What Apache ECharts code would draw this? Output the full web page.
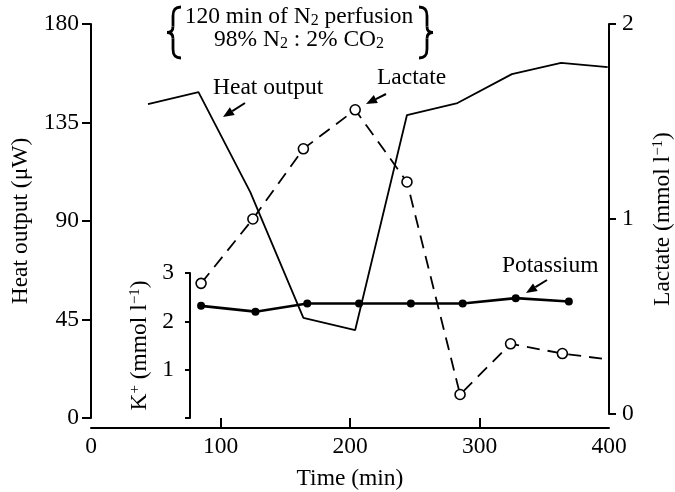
<!DOCTYPE html>
<html>
<head>
<meta charset="utf-8">
<script src="https://cdn.jsdelivr.net/npm/echarts@6/dist/echarts.min.js"></script>
<style>
  html, body { margin: 0; padding: 0; background: #fff; }
  #chart { width: 675px; height: 492px; }
</style>
</head>
<body>
<div id="chart"></div>
<script>
// heat output (µW), left axis
const timeHeat = [44, 83, 123, 164, 204, 244, 283, 325, 363, 399];
const heatOutput = [143.4, 148.9, 103.2, 45.7, 40.2, 138.4, 143.9, 157.1, 162.2, 160.3];

// lactate (mmol/l), right axis
const timeLactate = [85, 125, 164, 204, 244, 285, 324, 364, 399];
const lactate = [0.67, 1.0, 1.36, 1.56, 1.19, 0.1, 0.36, 0.31, 0.28];

// potassium (mmol/l), inset axis
const timeK = [85, 127, 167, 207, 247, 287, 328, 369];
const potassium = [2.32, 2.2, 2.37, 2.37, 2.37, 2.37, 2.48, 2.41];

const xTicks = [100, 200, 300];

const FONT = "Liberation Serif";
const FS = 23.5;
const black = "#000";

const chart = echarts.init(document.getElementById("chart"), null, { renderer: "canvas" });

const baseText = { fontFamily: FONT, fontSize: FS, color: black };
const supSub = {
  a: { fontFamily: FONT, fontSize: FS, color: black },
  sup: { fontFamily: FONT, fontSize: 15, color: black, verticalAlign: "top" },
  sub: { fontFamily: FONT, fontSize: 16, color: black, verticalAlign: "bottom" },
};

// little arrow for annotations
function arrow(x1, y1, x2, y2) {
  const ang = Math.atan2(y2 - y1, x2 - x1);
  const len = 11, half = 4.5;
  const bx = x2 - len * Math.cos(ang), by = y2 - len * Math.sin(ang);
  const px = -Math.sin(ang) * half, py = Math.cos(ang) * half;
  return [
    { type: "line", shape: { x1: x1, y1: y1, x2: bx, y2: by }, style: { stroke: black, lineWidth: 2 } },
    { type: "polygon", shape: { points: [[x2, y2], [bx + px, by + py], [bx - px, by - py]] }, style: { fill: black } },
  ];
}

// curly brace, d = 1 opens to the right ({), d = -1 for }
function brace(x, top, bottom, d) {
  const mid = (top + bottom) / 2;
  const st = { stroke: black, lineWidth: 2.8, fill: null };
  const c = x - 8 * d, tip = x - 14 * d;
  return [
    { type: "bezierCurve", shape: { x1: x, y1: top, cpx1: x - 6 * d, cpy1: top, cpx2: c, cpy2: top + 3, x2: c, y2: top + 9 }, style: st },
    { type: "line", shape: { x1: c, y1: top + 9, x2: c, y2: mid - 6 }, style: st },
    { type: "bezierCurve", shape: { x1: c, y1: mid - 6, cpx1: c, cpy1: mid - 2, cpx2: c - 2 * d, cpy2: mid, x2: tip, y2: mid }, style: st },
    { type: "bezierCurve", shape: { x1: tip, y1: mid, cpx1: c - 2 * d, cpy1: mid, cpx2: c, cpy2: mid + 2, x2: c, y2: mid + 6 }, style: st },
    { type: "line", shape: { x1: c, y1: mid + 6, x2: c, y2: bottom - 9 }, style: st },
    { type: "bezierCurve", shape: { x1: c, y1: bottom - 9, cpx1: c, cpy1: bottom - 3, cpx2: x - 6 * d, cpy2: bottom, x2: x, y2: bottom }, style: st },
  ];
}

function label(text, x, y, align) {
  return {
    type: "text", x: x, y: y,
    style: { text: text, rich: supSub, font: FS + "px " + FONT, fill: black, align: align || "left", verticalAlign: "middle" },
  };
}

const option = {
  backgroundColor: "#fff",
  animation: false,
  grid: [
    { left: 91, right: 66, top: 24, bottom: 74, outerBoundsMode: "none" },
    { left: 91, right: 66, top: 24, bottom: 78, outerBoundsMode: "none" },
    { left: 91, right: 66, top: 273, bottom: 74, outerBoundsMode: "none" },
  ],
  xAxis: [
    {
      gridIndex: 0, type: "value", min: 0, max: 400, interval: 100, offset: 10,
      name: "Time (min)", nameLocation: "middle", nameGap: 39,
      nameTextStyle: baseText,
      axisLine: { show: true, onZero: false, lineStyle: { color: black, width: 2 } },
      axisTick: { show: true, inside: true, length: 10, customValues: xTicks, lineStyle: { color: black, width: 2 } },
      axisLabel: { ...baseText, margin: 7 },
      splitLine: { show: false },
    },
    { gridIndex: 1, type: "value", min: 0, max: 400, show: false },
    { gridIndex: 2, type: "value", min: 0, max: 400, show: false },
  ],
  yAxis: [
    {
      gridIndex: 0, type: "value", min: 0, max: 180, interval: 45,
      name: "Heat output (μW)", nameLocation: "middle", nameGap: 47, nameRotate: 90,
      nameTextStyle: baseText,
      axisLine: { show: true, onZero: false, lineStyle: { color: black, width: 2 } },
      axisTick: { show: true, length: 9, lineStyle: { color: black, width: 2 } },
      axisLabel: { ...baseText, margin: 12 },
      splitLine: { show: false },
    },
    {
      gridIndex: 1, type: "value", position: "right", min: 0, max: 2, interval: 1,
      name: "{a|Lactate (mmol l}{sup|−1}{a|)}", nameLocation: "middle", nameGap: 42, nameRotate: 90,
      nameTextStyle: { ...baseText, rich: supSub },
      axisLine: { show: true, onZero: false, lineStyle: { color: black, width: 2 } },
      axisTick: { show: true, length: 7, lineStyle: { color: black, width: 2 } },
      axisLabel: { ...baseText, margin: 13 },
      splitLine: { show: false },
    },
    {
      gridIndex: 2, type: "value", position: "left", offset: -99, min: 0, max: 3, interval: 1,
      name: "{a|K}{sup|+}{a| (mmol l}{sup|−1}{a|)}", nameLocation: "middle", nameGap: 38, nameRotate: 90,
      nameTextStyle: { ...baseText, rich: supSub },
      axisLine: { show: true, onZero: false, lineStyle: { color: black, width: 2 } },
      axisTick: { show: true, length: 5, lineStyle: { color: black, width: 2 } },
      axisLabel: { ...baseText, margin: 16, formatter: (v) => (v === 0 ? "" : String(v)) },
      splitLine: { show: false },
    },
  ],
  series: [
    {
      name: "Heat output", type: "line", xAxisIndex: 0, yAxisIndex: 0,
      data: timeHeat.map((t, i) => [t, heatOutput[i]]),
      symbol: "none", lineStyle: { color: black, width: 1.8 }, z: 2,
    },
    {
      name: "Lactate", type: "line", xAxisIndex: 1, yAxisIndex: 1,
      data: timeLactate.map((t, i) => ({
        value: [t, lactate[i]],
        symbol: i === timeLactate.length - 1 ? "none" : "circle",
      })),
      symbol: "circle", symbolSize: 10,
      itemStyle: { color: "#fff", borderColor: black, borderWidth: 1.6 },
      lineStyle: { color: black, width: 1.8, type: [13, 8] }, z: 3,
    },
    {
      name: "Potassium", type: "line", xAxisIndex: 2, yAxisIndex: 2,
      data: timeK.map((t, i) => [t, potassium[i]]),
      symbol: "circle", symbolSize: 8,
      itemStyle: { color: black },
      lineStyle: { color: black, width: 2.6 }, z: 4,
    },
  ],
  graphic: [
    ...brace(181, 7, 58, 1),
    ...brace(419, 7, 58, -1),
    label("{a|120 min of N}{sub|2}{a| perfusion}", 299, 17, "center"),
    label("{a|98% N}{sub|2}{a| : 2% CO}{sub|2}", 299, 40, "center"),
    label("Heat output", 213, 88),
    label("Lactate", 377, 78),
    label("Potassium", 502, 266),
    ...arrow(245, 103, 223, 117),
    ...arrow(386, 94, 366, 104),
    ...arrow(547, 280, 526, 293),
  ],
};

chart.setOption(option);
</script>
</body>
</html>
